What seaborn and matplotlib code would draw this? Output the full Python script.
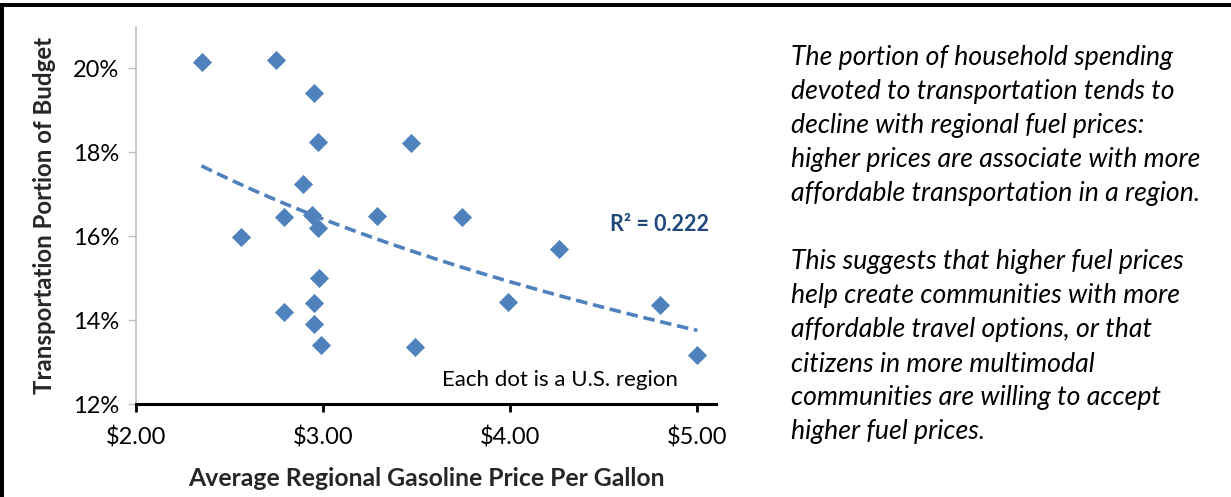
import matplotlib
matplotlib.use("Agg")
import matplotlib.pyplot as plt
import numpy as np
import pandas as pd
import seaborn as sns
from matplotlib.patches import Rectangle
from matplotlib.ticker import FuncFormatter

# one point per U.S. region
gas_price = [2.35, 2.75, 2.95, 2.97, 2.89, 2.79, 2.56, 2.94, 2.97, 3.29,
             2.98, 2.79, 2.95, 2.95, 2.99, 3.47, 3.74, 4.26, 3.99, 3.49,
             4.80, 5.00]
transport_share = [20.14, 20.19, 19.40, 18.24, 17.25, 16.46, 15.98, 16.51, 16.19, 16.48,
                   15.01, 14.20, 14.40, 13.91, 13.40, 18.22, 16.45, 15.69, 14.43, 13.37,
                   14.36, 13.17]
x_ticks = [2, 3, 4, 5]
y_ticks = [12, 14, 16, 18, 20]
r2_label = "R² = 0.222"
note = "Each dot is a U.S. region"
side_text = [
    "The portion of household spending",
    "devoted to transportation tends to",
    "decline with regional fuel prices:",
    "higher prices are associate with more",
    "affordable transportation in a region.",
    "",
    "This suggests that higher fuel prices",
    "help create communities with more",
    "affordable travel options, or that",
    "citizens in more multimodal",
    "communities are willing to accept",
    "higher fuel prices.",
]

df = pd.DataFrame({"price": gas_price, "share": transport_share})

sns.set_theme(style="white")
plt.rcParams["font.family"] = ["Lato", "DejaVu Sans"]

blue = "#4F81BD"
fig = plt.figure(figsize=(12.31, 4.97), dpi=100)
ax = fig.add_axes([0.1105, 0.1865, 0.4712, 0.7592])

sns.regplot(data=df, x="price", y="share", logx=True, ci=None, scatter=False, ax=ax,
            line_kws={"color": blue, "lw": 2.6, "ls": (0, (3.2, 1.6))})
sns.scatterplot(data=df, x="price", y="share", marker="D", s=95, color=blue,
                edgecolor=blue, linewidth=0, ax=ax, zorder=3)

ax.set_xlim(2, 5.10)
ax.set_ylim(12, 20.98)
ax.set_xticks(x_ticks)
ax.set_yticks(y_ticks)
ax.xaxis.set_major_formatter(FuncFormatter(lambda v, p: f"${v:.2f}"))
ax.yaxis.set_major_formatter(FuncFormatter(lambda v, p: f"{v:.0f}%"))
ax.tick_params(axis="x", bottom=True, direction="out", length=6, width=2,
               color="black", labelsize=17, pad=10)
ax.tick_params(axis="y", left=True, direction="out", length=6, width=1,
               color="#BFBFBF", labelsize=17, pad=6)
for lbl in ax.get_xticklabels() + ax.get_yticklabels():
    lbl.set_color("black")

for s in ["top", "right"]:
    ax.spines[s].set_visible(False)
ax.spines["left"].set_color("#BFBFBF")
ax.spines["left"].set_linewidth(1.2)
ax.spines["bottom"].set_color("black")
ax.spines["bottom"].set_linewidth(2.2)

ax.set_xlabel("Average Regional Gasoline Price Per Gallon", fontsize=17.8,
              fontweight="bold", labelpad=13)
ax.set_ylabel("Transportation Portion of Budget", fontsize=17.3,
              fontweight="bold", labelpad=12)

ax.text(4.80, 16.29, r2_label, fontsize=15.5, fontweight="bold", color="#1F497D",
        ha="center", va="center")
ax.text(4.265, 12.58, note, fontsize=16, ha="center", va="center", color="black")

# explanatory text on the right
y0 = 1 - 58 / 497
step = 34 / 497
for i, line in enumerate(side_text):
    fig.text(791 / 1231, y0 - i * step, line, fontsize=19.2, style="italic",
             ha="left", va="center", color="black")

# heavy frame (left and top edges)
fig.add_artist(Rectangle((0, 0), 4 / 1231, 1 - 3 / 497, transform=fig.transFigure,
                         color="black", lw=0))
fig.add_artist(Rectangle((0, 1 - 7 / 497), 1, 4 / 497, transform=fig.transFigure,
                         color="black", lw=0))

fig.savefig("out.png", dpi=100, facecolor="white")
